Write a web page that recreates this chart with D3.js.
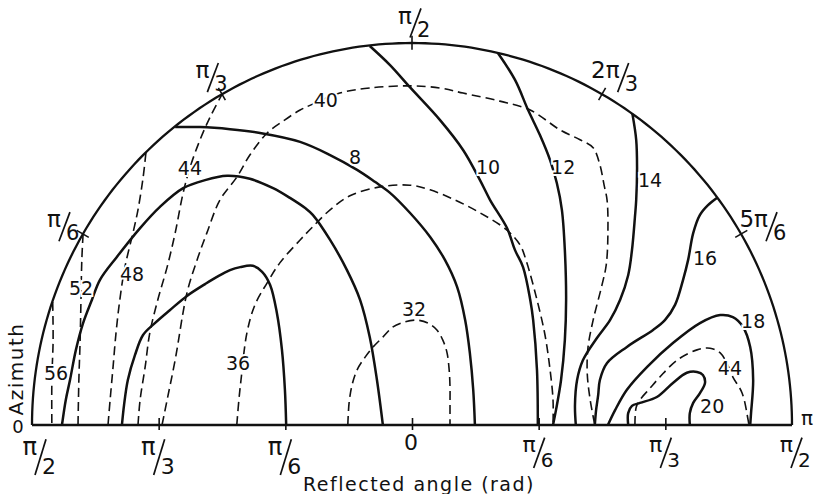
<!DOCTYPE html>
<html>
<head>
<meta charset="utf-8">
<script src="https://cdn.jsdelivr.net/npm/d3@7"></script>
<style>
  html, body { margin: 0; padding: 0; background: #fff; }
  svg { display: block; font-family: "DejaVu Sans", sans-serif; }
</style>
</head>
<body>
<svg id="chart" width="815" height="494"></svg>
<script>
// Contours of the reflected-angle map. Each point is [horizontal, vertical]
// component of the reflected angle in degrees (radius 90 = pi/2), azimuth 0 on the left.

// dashed family
const contour56 = [[-85.1,29.0],[-85.0,20.0],[-85.3,10.6],[-85.3,0]];
const contour52 = [[-77.9,45.0],[-78.2,38.9],[-78.4,29.5],[-78.6,20.0],[-78.9,10.6],[-79.1,0]];
const contour48 = [[-72.0,0],[-71.5,5.9],[-70.8,13.7],[-70.1,21.7],[-69.2,29.5],[-68.0,37.2],[-66.1,45.2],[-64.9,50.7],[-63.7,58.2],[-63.0,64.3]];
const contour44a = [[-64.9,0],[-64.4,5.9],[-63.2,13.7],[-62.1,21.7],[-60.2,29.5],[-58.0,37.2],[-56.1,45.2],[-54.2,54.7],[-52.6,60.6],[-50.2,67.2],[-47.8,72.6],[-45.0,77.9]];
const contour40 = [[-59.2,0],[-58.0,5.9],[-56.1,15.3],[-53.3,31.1],[-50.9,38.9],[-48.6,45.2],[-45.5,53.0],[-41.5,58.4],[-38.4,63.6],[-34.3,68.8],[-30.1,71.9],[-26.5,74.2],[-23.5,75.6],[-17.1,78.2],[-10.0,79.4],[-0.5,79.9],[6.6,79.4],[12.1,78.2],[20.8,76.3],[28.0,74.2],[35.1,69.5],[39.8,67.2],[42.9,65.3],[44.5,61.3],[45.5,56.5],[46.2,53.0],[46.4,45.2],[46.0,37.7],[45.0,33.0],[42.9,24.7],[41.7,18.4],[41.5,12.3],[42.2,5.9],[43.3,0]];
const contour36 = [[-41.5,0],[-41.0,5.9],[-40.5,10.6],[-39.1,21.7],[-37.2,28.3],[-34.3,33.5],[-31.3,38.2],[-26.5,43.6],[-23.5,46.7],[-19.4,50.7],[-14.7,54.0],[-7.6,56.1],[-0.5,56.5],[4.3,55.4],[10.2,53.0],[16.1,50.0],[22.5,45.9],[25.6,42.4],[27.2,38.2],[29.6,29.5],[31.5,21.2],[32.7,13.0],[33.4,5.9],[33.4,0]];
const contour32 = [[-15.2,0],[-14.9,5.2],[-14.2,9.4],[-13.0,13.0],[-11.1,16.0],[-9.2,18.4],[-6.9,20.7],[-4.5,23.1],[-1.7,24.3],[1.2,24.7],[3.8,24.0],[5.9,22.4],[7.3,20.0],[8.3,17.0],[8.8,13.0],[9.0,9.0],[9.0,4.7],[9.0,0]];
const contour44b = [[52.8,0],[53.1,4.2],[54.0,5.9],[56.4,8.7],[58.7,11.3],[62.8,15.3],[67.5,17.7],[70.6,18.1],[73.0,17.0],[74.8,14.1],[76.0,11.3],[78.2,7.5],[79.6,1.2],[79.8,0]];

// solid family
const contourOuter = [[-82.9,0],[-82.0,5.9],[-81.0,10.6],[-79.6,17.7],[-77.9,24.0],[-75.8,29.5],[-73.9,34.2],[-69.9,39.6],[-64.4,46.4],[-59.7,51.4],[-54.2,55.8],[-49.0,57.7],[-43.8,58.7],[-38.4,58.0],[-32.9,55.8],[-28.9,53.5],[-25.3,51.1],[-23.5,49.5],[-19.4,43.6],[-15.4,36.5],[-12.3,29.5],[-10.0,20.7],[-8.3,10.6],[-6.9,0]];
const contourInner = [[-68.7,0],[-68.2,4.7],[-67.3,10.6],[-65.6,16.5],[-63.7,21.2],[-60.9,24.0],[-57.3,27.1],[-53.3,30.4],[-49.0,33.2],[-46.2,34.9],[-43.1,36.5],[-40.7,37.2],[-37.7,37.5],[-35.5,36.1],[-33.6,33.0],[-32.0,26.4],[-30.8,17.7],[-30.1,8.3],[-29.8,0]];
const contour8 = [[-56.1,70.2],[-50.2,70.2],[-43.1,69.7],[-36.0,68.8],[-26.5,66.7],[-19.4,63.6],[-13.0,60.1],[-8.8,57.3],[-5.2,54.7],[-0.5,50.0],[4.3,44.3],[7.8,38.9],[10.7,32.5],[12.6,24.7],[13.7,17.0],[14.5,8.3],[14.9,0]];
const contour10 = [[-10.0,89.3],[-5.2,84.8],[-0.5,79.6],[6.6,71.9],[12.1,64.8],[16.1,57.7],[18.5,53.0],[22.5,46.4],[24.4,41.2],[26.3,37.2],[28.0,29.5],[28.7,24.7],[29.6,13.0],[29.8,0]];
const contour12 = [[20.3,87.7],[24.4,81.3],[27.5,74.2],[30.3,68.3],[32.7,62.4],[34.3,57.0],[35.5,50.7],[36.2,41.2],[36.5,29.5],[36.2,20.0],[35.3,10.6],[34.1,3.5],[33.4,0]];
const contour14 = [[52.2,73.3],[53.1,67.2],[53.3,60.8],[53.1,53.0],[52.8,49.0],[52.1,41.2],[51.2,35.3],[49.3,29.5],[46.9,24.7],[43.8,20.5],[40.5,15.3],[39.1,10.6],[38.6,4.7],[38.8,0]];
const contour16 = [[72.2,53.5],[70.1,51.8],[68.2,49.5],[66.6,45.2],[65.4,38.9],[64.2,34.2],[62.3,28.3],[59.9,24.7],[57.1,22.4],[50.9,18.4],[46.2,14.6],[44.5,10.6],[44.1,7.1],[43.6,3.5],[43.3,0]];
const contour18 = [[46.4,0],[48.1,3.5],[50.9,8.3],[55.7,13.7],[61.8,19.3],[68.2,24.0],[73.0,25.9],[76.0,25.4],[78.4,23.1],[80.1,18.4],[80.8,10.6],[80.3,2.8],[80.1,0]];
const contour20 = [[51.2,0],[51.2,2.8],[52.1,4.5],[54.0,5.2],[58.0,6.6],[61.8,9.9],[65.1,12.3],[67.5,12.5],[68.9,11.8],[69.4,9.9],[68.2,7.5],[66.6,5.2],[65.8,2.8],[65.8,0]];

// contour labels: text and anchor point
const dashedLabels = [
  {text: "56", at: [-84.3, 12.3]},
  {text: "52", at: [-78.4, 32.3]},
  {text: "48", at: [-66.3, 35.6]},
  {text: "44", at: [-52.6, 60.6]},
  {text: "40", at: [-20.4, 76.6]},
  {text: "36", at: [-41.2, 14.6]},
  {text: "32", at: [0.5, 27.3]},
  {text: "44", at: [75.3, 13.4]}
];
const solidLabels = [
  {text: "8",  at: [-13.5, 63.1]},
  {text: "10", at: [18.0, 60.8]},
  {text: "12", at: [35.8, 60.8]},
  {text: "14", at: [56.4, 57.7]},
  {text: "16", at: [69.4, 39.4]},
  {text: "18", at: [80.8, 24.5]},
  {text: "20", at: [71.1, 4.5]}
];

// axis ticks
const angleTicks = [-90, -60, -30, 0, 30, 60, 90];
const angleTickLabels = [["π","2"],["π","3"],["π","6"],["0",null],["π","6"],["π","3"],["π","2"]];
const azimuthTicks = [30, 60, 90, 120, 150];
const azimuthTickLabels = [["π","6"],["π","3"],["π","2"],["2π","3"],["5π","6"]];

const dashedContours = [contour56, contour52, contour48, contour44a, contour40, contour36, contour32, contour44b];
const solidContours = [contourOuter, contourInner, contour8, contour10, contour12, contour14, contour16, contour18, contour20];

const svg = d3.select("#chart");
const x = d3.scaleLinear().domain([-90, 90]).range([32, 792]);
const y = d3.scaleLinear().domain([0, 90]).range([425, 43]);
const ink = "#111";
const rad = Math.PI / 180;

// polar helper: reflected angle r (deg) along azimuth phi (deg, 0 = left)
const polar = (r, phi) => [-r * Math.cos(phi * rad), r * Math.sin(phi * rad)];

const smooth = d3.line().x(d => x(d[0])).y(d => y(d[1])).curve(d3.curveCatmullRom.alpha(0.5));
const straight = d3.line().x(d => x(d[0])).y(d => y(d[1]));

// clip the contours to the half-disc
const rim = d3.range(0, 180.01, 1).map(a => polar(90, a));
svg.append("defs").append("clipPath").attr("id", "half")
  .append("path").attr("d", straight(d3.range(0, 180.01, 1).map(a => polar(90.4, a))) + "Z");

const plot = svg.append("g").attr("clip-path", "url(#half)");

plot.selectAll("path.dash").data(dashedContours).join("path")
  .attr("class", "dash")
  .attr("d", smooth)
  .attr("fill", "none").attr("stroke", ink)
  .attr("stroke-width", 1.6).attr("stroke-dasharray", "9,5");

plot.selectAll("path.solid").data(solidContours).join("path")
  .attr("class", "solid")
  .attr("d", smooth)
  .attr("fill", "none").attr("stroke", ink)
  .attr("stroke-width", 2.5).attr("stroke-linejoin", "round");

// outer rim and base line
svg.append("path").attr("d", straight(rim))
  .attr("fill", "none").attr("stroke", ink).attr("stroke-width", 2.3);
svg.append("line")
  .attr("x1", x(-90)).attr("x2", x(90)).attr("y1", y(0)).attr("y2", y(0))
  .attr("stroke", ink).attr("stroke-width", 2.7);

// base-line ticks through the library axis
const axis = d3.axisBottom(x).tickValues(angleTicks.filter(t => Math.abs(t) < 90))
  .tickSize(12).tickFormat("");
const axisG = svg.append("g").attr("transform", `translate(0,${y(0) - 7})`).call(axis);
axisG.select(".domain").remove();
axisG.selectAll(".tick line").attr("stroke", ink).attr("stroke-width", 1.6);

// rim ticks
svg.selectAll("line.rimtick").data(azimuthTicks).join("line")
  .attr("class", "rimtick")
  .attr("x1", d => x(polar(88.4, d)[0])).attr("y1", d => y(polar(88.4, d)[1]))
  .attr("x2", d => x(polar(91.7, d)[0])).attr("y2", d => y(polar(91.7, d)[1]))
  .attr("stroke", ink).attr("stroke-width", 1.6);

// fraction label: numerator, slanted rule, lowered denominator around (px, py)
function fraction(px, py, num, den, f, drop) {
  const g = svg.append("g").attr("fill", ink);
  g.append("text").attr("x", px - 3).attr("y", py).attr("text-anchor", "end")
    .attr("font-size", f * 1.1).text(num);
  g.append("line")
    .attr("x1", px + 6).attr("y1", py - f * 0.72)
    .attr("x2", px - 5).attr("y2", py + drop + 1)
    .attr("stroke", ink).attr("stroke-width", 1.7);
  g.append("text").attr("x", px + 2).attr("y", py + drop).attr("text-anchor", "start")
    .attr("font-size", f).text(den);
}

azimuthTicks.forEach((t, i) => {
  const [num, den] = azimuthTickLabels[i];
  const p = polar(96, t);
  const shift = num.length > 1 ? 8 : 3;
  fraction(x(p[0]) + shift, y(p[1]) + 6, num, den, 21, 13);
});

angleTicks.forEach((t, i) => {
  const [num, den] = angleTickLabels[i];
  if (den === null) {
    svg.append("text").attr("x", x(t) - 1).attr("y", 450).attr("text-anchor", "middle")
      .attr("font-size", 22).attr("fill", ink).text(num);
    return;
  }
  const left = t < 0;
  const shift = t === -90 ? 8 : (t === 90 ? 4 : 0);
  fraction(x(t) + shift, left ? 455 : 452, num, den, left ? 22 : 20, left ? 19 : 15);
});

// azimuth end values
svg.append("text").attr("x", 18).attr("y", 433).attr("text-anchor", "middle")
  .attr("font-size", 18).attr("fill", ink).text("0");
svg.append("text").attr("x", 807).attr("y", 425).attr("text-anchor", "middle")
  .attr("font-size", 20).attr("fill", ink).text("π");

// contour labels with a white halo so the lines break around them
function labels(data) {
  svg.append("g").selectAll("text").data(data).join("text")
    .attr("x", d => x(d.at[0])).attr("y", d => y(d.at[1]))
    .attr("dy", "0.36em").attr("text-anchor", "middle")
    .attr("font-size", 19).attr("fill", ink)
    .attr("stroke", "#fff").attr("stroke-width", 4).attr("paint-order", "stroke")
    .text(d => d.text);
}
labels(dashedLabels);
labels(solidLabels);

// axis titles
svg.append("text").attr("x", 419).attr("y", 491).attr("text-anchor", "middle")
  .attr("font-size", 19).attr("letter-spacing", 1.5).attr("fill", ink)
  .text("Reflected angle (rad)");
svg.append("text").attr("transform", "translate(23,369) rotate(-90)")
  .attr("text-anchor", "middle").attr("font-size", 20).attr("letter-spacing", 1.5)
  .attr("fill", ink).text("Azimuth");
</script>
</body>
</html>
